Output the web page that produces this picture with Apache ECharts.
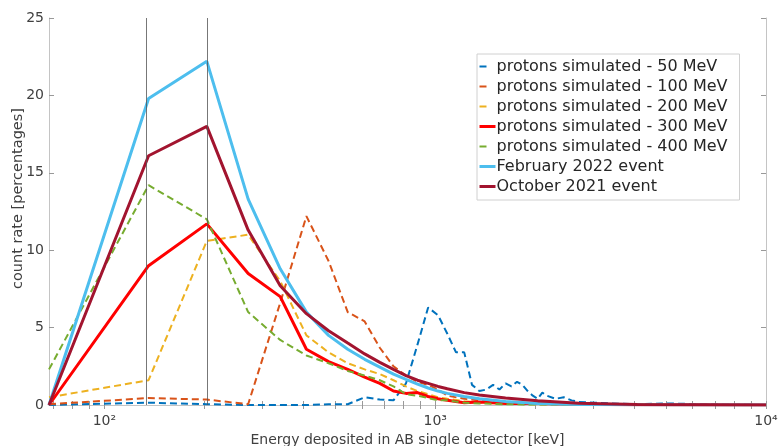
<!DOCTYPE html>
<html><head><meta charset="utf-8">
<script src="https://cdn.jsdelivr.net/npm/echarts@6/dist/echarts.min.js"></script>
<style>html,body{margin:0;padding:0;background:#fff}#c{width:778px;height:446px}</style>
</head><body><div id="c"></div>
<script>
// Energy bins (keV) shared by the smooth curves
const energyGrid = [68,136,204,272,340,408,476,544,612,680,748,816,884,952,1020,1088,1224,1360,1632,2040,2720,4080,10000];
// Finer energy bins for the noisy 50 MeV curve
const energy50 = [68,136,204,272,340,408,476,544,612,680,748,816,884,952,1020,1088,1156,1224,1292,1360,1428,1496,1564,1632,1700,1768,1836,1904,1972,2040,2108,2176,2312,2448,2584,2720,3060,3400,4080,5100,6800,10000];
const sim50  = [0,0.15,0.05,0,0,0,0.05,0.05,0.5,0.35,0.3,1.4,3.9,6.3,5.8,4.6,3.4,3.4,1.3,0.9,1.0,1.3,1.0,1.4,1.2,1.5,1.3,0.9,0.6,0.4,0.8,0.6,0.4,0.5,0.3,0.2,0.15,0.1,0.05,0.1,0.03,0];
const sim100 = [0.05,0.45,0.35,0.05,6.6,12.2,9.3,6.0,5.4,3.7,2.5,1.9,1.5,1.3,1.0,0.6,0.4,0.3,0.15,0.1,0.05,0.02,0];
const sim200 = [0.5,1.6,10.6,11.0,8.0,4.5,3.4,2.7,2.3,2.0,1.6,1.2,0.9,0.7,0.5,0.4,0.25,0.15,0.08,0.04,0.02,0.01,0];
const sim300 = [0,9.0,11.7,8.5,7.0,3.6,2.8,2.3,1.8,1.4,0.9,0.75,0.8,0.55,0.4,0.3,0.15,0.2,0.1,0.1,0.05,0.02,0];
const sim400 = [2.3,14.2,12.0,6.0,4.2,3.2,2.7,2.2,1.9,1.6,1.2,0.7,0.6,0.45,0.3,0.3,0.15,0.1,0.05,0.03,0.02,0.01,0];
const feb2022 = [0,19.8,22.2,13.3,8.8,6.0,4.5,3.6,2.95,2.45,2.0,1.65,1.35,1.1,0.9,0.75,0.55,0.4,0.22,0.1,0.04,0.01,0];
const oct2021 = [0,16.1,18.0,11.3,7.7,5.9,4.8,4.0,3.3,2.75,2.3,1.9,1.6,1.4,1.2,1.05,0.8,0.65,0.45,0.28,0.12,0.04,0];

const seriesNames = ['protons simulated - 50 MeV','protons simulated - 100 MeV','protons simulated - 200 MeV','protons simulated - 300 MeV','protons simulated - 400 MeV','February 2022 event','October 2021 event'];
const xLabelValues = [100,1000,10000];
const xTickValues = [70,80,90,100,200,300,400,500,600,700,800,900,1000,2000,3000,4000,5000,6000,7000,8000,9000,10000];
const markerEnergies = [134,204];
const sup = {100:'10²',1000:'10³',10000:'10⁴'};

const pair = (xs, ys) => xs.map((x,i)=>[x, ys[i]]);
const FONT = 'DejaVu Sans';
const axisGrey = '#c4c4c4';
const textGrey = '#404040';
const colors = ['#0072BD','#D95319','#EDB120','#FF0000','#77AC30','#4DBEEE','#A2142F'];
const dashedFlags = [true,true,true,false,true,false,false];

function lineSeries(i, data, width, extra) {
  const color = colors[i];
  return Object.assign({
    name: seriesNames[i], type:'line', data: data, symbol:'none', showSymbol:false, z:2,
    lineStyle:{color, width, type: dashedFlags[i] ? [7,4] : 'solid'},
    itemStyle:{color}, animation:false
  }, extra||{});
}

const series = [
  lineSeries(0, pair(energy50, sim50), 2, {
    markLine:{silent:true, symbol:'none', label:{show:false},
      lineStyle:{color:'#555', width:1, type:'solid', opacity:0.8},
      data: markerEnergies.map(v=>({xAxis:v}))}
  }),
  lineSeries(1, pair(energyGrid, sim100), 2),
  lineSeries(2, pair(energyGrid, sim200), 2),
  lineSeries(3, pair(energyGrid, sim300), 3),
  lineSeries(4, pair(energyGrid, sim400), 2),
  lineSeries(5, pair(energyGrid, feb2022), 3),
  lineSeries(6, pair(energyGrid, oct2021), 3)
];

const xCommon = {type:'log', logBase:10, min:68, max:10000,
  axisLine:{show:true, lineStyle:{color:axisGrey, width:1}},
  splitLine:{show:false}, minorTick:{show:false}};

const option = {
  animation:false,
  textStyle:{fontFamily:FONT},
  grid:{left:49, right:12, top:18, bottom:41, containLabel:false, outerBoundsMode:'none'},
  legend:{
    orient:'vertical', left:477, top:54,
    data: seriesNames.map((n,i)=>({name:n,
      lineStyle: dashedFlags[i] ? {type:[7,20], width:2} : {type:'solid', width:3},
      itemStyle:{opacity:0}})),
    itemWidth:16, itemHeight:12, itemGap:1,
    padding:[3,12,4,1],
    borderColor:'#d0d0d0', borderWidth:1, backgroundColor:'#fff',
    textStyle:{fontFamily:FONT, fontSize:16, color:'#262626', lineHeight:19, padding:[0,0,0,-4]}
  },
  xAxis:[
    Object.assign({}, xCommon, {position:'bottom',
      name:'Energy deposited in AB single detector [keV]', nameLocation:'middle', nameGap:27,
      nameTextStyle:{fontFamily:FONT, fontSize:14, color:textGrey},
      axisTick:{show:true, inside:true, length:4, customValues:xTickValues, lineStyle:{color:'#999'}},
      axisLabel:{show:true, customValues:xLabelValues, margin:9, fontFamily:FONT, fontSize:14, color:textGrey,
        formatter:v=>sup[Math.round(v)]||''}
    }),
    Object.assign({}, xCommon, {position:'top',
      axisTick:{show:true, inside:true, length:4, customValues:xTickValues, lineStyle:{color:'#999'}},
      axisLabel:{show:false}
    })
  ],
  yAxis:[
    {type:'value', min:0, max:25, interval:5, position:'left',
      name:'count rate [percentages]', nameLocation:'middle', nameGap:23, nameMoveOverlap:false,
      nameTextStyle:{fontFamily:FONT, fontSize:14.5, color:textGrey, padding:[0,0,0,26]},
      axisLine:{show:true, lineStyle:{color:axisGrey}},
      axisTick:{show:true, inside:true, length:5, lineStyle:{color:'#999'}},
      axisLabel:{fontFamily:FONT, fontSize:14, color:textGrey, margin:5},
      splitLine:{show:false}},
    {type:'value', min:0, max:25, interval:5, position:'right',
      axisLine:{show:true, lineStyle:{color:axisGrey}},
      axisTick:{show:true, inside:true, length:5, lineStyle:{color:'#999'}},
      axisLabel:{show:false}, splitLine:{show:false}}
  ],
  series
};
const chart = echarts.init(document.getElementById('c'), null, {renderer:'canvas'});
chart.setOption(option);
</script></body></html>
